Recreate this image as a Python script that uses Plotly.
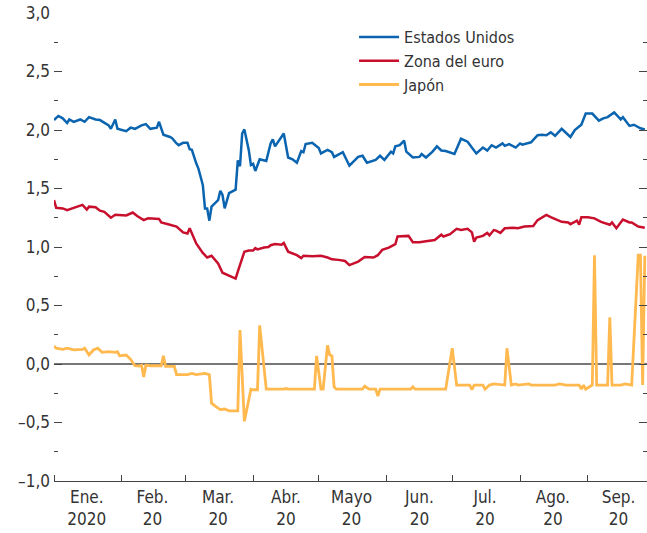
import plotly.graph_objects as go

# Estados Unidos
us_dates = ["2020-01-01", "2020-01-03", "2020-01-05", "2020-01-07", "2020-01-08", "2020-01-10",
            "2020-01-13", "2020-01-15", "2020-01-17", "2020-01-20", "2020-01-22", "2020-01-24",
            "2020-01-26", "2020-01-27", "2020-01-29", "2020-01-30", "2020-02-03", "2020-02-05",
            "2020-02-07", "2020-02-10", "2020-02-12", "2020-02-14", "2020-02-17", "2020-02-18",
            "2020-02-20", "2020-02-23", "2020-02-24", "2020-02-26", "2020-02-27", "2020-02-29",
            "2020-03-02", "2020-03-03", "2020-03-04", "2020-03-06", "2020-03-07", "2020-03-08",
            "2020-03-09", "2020-03-10", "2020-03-11", "2020-03-12", "2020-03-13", "2020-03-16",
            "2020-03-17", "2020-03-18", "2020-03-19", "2020-03-21", "2020-03-24", "2020-03-25",
            "2020-03-26", "2020-03-27", "2020-03-28", "2020-03-30", "2020-03-31", "2020-04-01",
            "2020-04-02", "2020-04-04", "2020-04-07", "2020-04-09", "2020-04-10", "2020-04-11",
            "2020-04-15", "2020-04-17", "2020-04-19", "2020-04-21", "2020-04-23", "2020-04-24",
            "2020-04-25", "2020-04-28", "2020-05-01", "2020-05-02", "2020-05-05", "2020-05-07",
            "2020-05-08", "2020-05-12", "2020-05-15", "2020-05-19", "2020-05-21", "2020-05-23",
            "2020-05-27", "2020-05-29", "2020-05-31", "2020-06-03", "2020-06-04", "2020-06-05",
            "2020-06-07", "2020-06-09", "2020-06-10", "2020-06-13", "2020-06-16", "2020-06-17",
            "2020-06-19", "2020-06-22", "2020-06-24", "2020-06-26", "2020-06-28", "2020-07-02",
            "2020-07-05", "2020-07-08", "2020-07-10", "2020-07-12", "2020-07-15", "2020-07-17",
            "2020-07-19", "2020-07-21", "2020-07-24", "2020-07-25", "2020-07-27", "2020-07-30",
            "2020-08-01", "2020-08-02", "2020-08-06", "2020-08-09", "2020-08-11", "2020-08-13",
            "2020-08-15", "2020-08-17", "2020-08-20", "2020-08-24", "2020-08-26", "2020-08-29",
            "2020-08-31", "2020-09-03", "2020-09-06", "2020-09-08", "2020-09-10", "2020-09-13",
            "2020-09-16", "2020-09-17", "2020-09-20", "2020-09-22", "2020-09-25", "2020-09-27"]
us_vals = [2.085, 2.12, 2.10, 2.06, 2.09, 2.07,
           2.09, 2.07, 2.11, 2.09, 2.085, 2.06,
           2.04, 2.01, 2.09, 2.01, 1.99, 2.02,
           2.01, 2.04, 2.05, 2.01, 2.02, 2.07,
           1.96, 1.94, 1.93, 1.885, 1.87, 1.89,
           1.89, 1.835, 1.83, 1.715, 1.67, 1.60,
           1.53, 1.33, 1.33, 1.225, 1.345, 1.40,
           1.48, 1.445, 1.33, 1.46, 1.49, 1.74,
           1.69, 1.97, 2.005, 1.83, 1.70, 1.71,
           1.65, 1.75, 1.735, 1.885, 1.92, 1.86,
           1.97, 1.765, 1.75, 1.72, 1.82, 1.81,
           1.88, 1.89, 1.845, 1.80, 1.83, 1.81,
           1.77, 1.81, 1.695, 1.77, 1.78, 1.72,
           1.745, 1.78, 1.745, 1.815, 1.80, 1.86,
           1.87, 1.91, 1.815, 1.765, 1.77, 1.795,
           1.765, 1.815, 1.86, 1.825, 1.82, 1.795,
           1.925, 1.90, 1.845, 1.80, 1.85, 1.825,
           1.87, 1.85, 1.885, 1.865, 1.88, 1.85,
           1.885, 1.875, 1.895, 1.955, 1.96, 1.955,
           1.98, 1.95, 2.01, 1.94, 2.00, 2.045,
           2.14, 2.14, 2.08, 2.10, 2.11, 2.15,
           2.09, 2.11, 2.035, 2.045, 2.015, 2.005]

# Zona del euro
eu_dates = ["2020-01-01", "2020-01-02", "2020-01-05", "2020-01-07", "2020-01-10", "2020-01-14",
            "2020-01-16", "2020-01-17", "2020-01-20", "2020-01-22", "2020-01-24", "2020-01-27",
            "2020-01-29", "2020-02-03", "2020-02-06", "2020-02-08", "2020-02-11", "2020-02-13",
            "2020-02-18", "2020-02-19", "2020-02-23", "2020-02-26", "2020-02-29", "2020-03-02",
            "2020-03-03", "2020-03-06", "2020-03-09", "2020-03-11", "2020-03-13", "2020-03-16",
            "2020-03-18", "2020-03-21", "2020-03-24", "2020-03-25", "2020-03-28", "2020-03-30",
            "2020-04-01", "2020-04-02", "2020-04-03", "2020-04-06", "2020-04-08", "2020-04-09",
            "2020-04-11", "2020-04-14", "2020-04-15", "2020-04-17", "2020-04-21", "2020-04-23",
            "2020-04-24", "2020-04-28", "2020-05-02", "2020-05-05", "2020-05-07", "2020-05-10",
            "2020-05-13", "2020-05-15", "2020-05-19", "2020-05-22", "2020-05-26", "2020-05-28",
            "2020-05-30", "2020-06-02", "2020-06-05", "2020-06-06", "2020-06-09", "2020-06-11",
            "2020-06-13", "2020-06-16", "2020-06-19", "2020-06-23", "2020-06-26", "2020-06-27",
            "2020-06-30", "2020-07-03", "2020-07-05", "2020-07-08", "2020-07-10", "2020-07-11",
            "2020-07-12", "2020-07-15", "2020-07-17", "2020-07-18", "2020-07-20", "2020-07-21",
            "2020-07-23", "2020-07-25", "2020-07-29", "2020-07-31", "2020-08-03", "2020-08-07",
            "2020-08-09", "2020-08-11", "2020-08-13", "2020-08-15", "2020-08-20", "2020-08-23",
            "2020-08-24", "2020-08-27", "2020-08-28", "2020-08-29", "2020-09-01", "2020-09-04",
            "2020-09-07", "2020-09-11", "2020-09-12", "2020-09-14", "2020-09-17", "2020-09-20",
            "2020-09-21", "2020-09-24", "2020-09-27"]
eu_vals = [1.40, 1.335, 1.33, 1.315, 1.335, 1.36,
           1.32, 1.345, 1.34, 1.31, 1.30, 1.25,
           1.275, 1.27, 1.295, 1.265, 1.23, 1.245,
           1.24, 1.21, 1.19, 1.175, 1.125, 1.115,
           1.16, 1.03, 0.95, 0.91, 0.925, 0.86,
           0.78, 0.755, 0.73, 0.79, 0.96, 0.97,
           0.97, 0.99, 0.98, 0.995, 1.00, 1.015,
           1.025, 1.02, 1.035, 0.96, 0.93, 0.905,
           0.925, 0.92, 0.925, 0.91, 0.895, 0.89,
           0.88, 0.845, 0.875, 0.915, 0.91, 0.93,
           0.975, 0.995, 1.025, 1.09, 1.095, 1.095,
           1.04, 1.04, 1.05, 1.06, 1.105, 1.09,
           1.11, 1.155, 1.145, 1.155, 1.125, 1.045,
           1.08, 1.095, 1.12, 1.10, 1.145, 1.14,
           1.12, 1.16, 1.165, 1.16, 1.175, 1.18,
           1.23, 1.255, 1.275, 1.255, 1.215, 1.21,
           1.195, 1.225, 1.19, 1.255, 1.255, 1.245,
           1.215, 1.19, 1.21, 1.16, 1.235, 1.21,
           1.21, 1.175, 1.165]

# Japón
jp_dates = ["2020-01-01", "2020-01-02", "2020-01-05", "2020-01-07", "2020-01-10", "2020-01-14",
            "2020-01-15", "2020-01-16", "2020-01-17", "2020-01-19", "2020-01-21", "2020-01-23",
            "2020-01-26", "2020-01-29", "2020-01-30", "2020-01-31", "2020-02-03", "2020-02-05",
            "2020-02-07", "2020-02-09", "2020-02-10", "2020-02-11", "2020-02-12", "2020-02-14",
            "2020-02-19", "2020-02-20", "2020-02-21", "2020-02-25", "2020-02-26", "2020-03-02",
            "2020-03-04", "2020-03-06", "2020-03-10", "2020-03-12", "2020-03-13", "2020-03-15",
            "2020-03-17", "2020-03-19", "2020-03-21", "2020-03-25", "2020-03-26", "2020-03-28",
            "2020-03-31", "2020-04-01", "2020-04-03", "2020-04-04", "2020-04-07", "2020-04-15",
            "2020-04-16", "2020-04-17", "2020-04-29", "2020-04-30", "2020-05-02", "2020-05-03",
            "2020-05-05", "2020-05-06", "2020-05-07", "2020-05-08", "2020-05-09", "2020-05-21",
            "2020-05-22", "2020-05-24", "2020-05-27", "2020-05-28", "2020-05-29", "2020-06-12",
            "2020-06-13", "2020-06-14", "2020-06-28", "2020-07-01", "2020-07-03", "2020-07-09",
            "2020-07-10", "2020-07-11", "2020-07-15", "2020-07-16", "2020-07-18", "2020-07-20",
            "2020-07-25", "2020-07-26", "2020-07-28", "2020-07-30", "2020-07-31", "2020-08-05",
            "2020-08-06", "2020-08-17", "2020-08-19", "2020-08-22", "2020-08-28", "2020-08-29",
            "2020-08-30", "2020-08-31", "2020-09-03", "2020-09-04", "2020-09-05", "2020-09-10",
            "2020-09-11", "2020-09-12", "2020-09-16", "2020-09-18", "2020-09-21", "2020-09-24",
            "2020-09-25", "2020-09-26", "2020-09-27"]
jp_vals = [0.155, 0.135, 0.125, 0.135, 0.12, 0.125,
           0.135, 0.105, 0.077, 0.12, 0.135, 0.10,
           0.105, 0.10, 0.105, 0.07, 0.077, 0.04,
           -0.015, -0.017, -0.01, -0.11, -0.01, -0.015,
           -0.015, 0.07, -0.02, -0.02, -0.09, -0.09,
           -0.08, -0.09, -0.08, -0.09, -0.335, -0.365,
           -0.39, -0.385, -0.40, -0.40, 0.29, -0.49,
           -0.215, -0.22, -0.22, 0.33, -0.215, -0.215,
           -0.21, -0.215, -0.215, 0.07, -0.215, -0.215,
           0.16, 0.077, 0.07, -0.195, -0.215, -0.215,
           -0.19, -0.215, -0.215, -0.275, -0.215, -0.215,
           -0.195, -0.215, -0.215, 0.135, -0.18, -0.18,
           -0.22, -0.18, -0.18, -0.215, -0.18, -0.17,
           -0.18, 0.135, -0.18, -0.17, -0.18, -0.17,
           -0.18, -0.18, -0.17, -0.18, -0.18, -0.215,
           -0.18, -0.215, -0.18, 0.93, -0.18, -0.18,
           0.40, -0.18, -0.18, -0.17, -0.18, 0.93,
           0.93, -0.18, 0.925]

# Eje horizontal: comienzo de cada mes y etiquetas centradas
month_starts = ["2020-01-01", "2020-02-01", "2020-03-01", "2020-04-01", "2020-05-01",
                "2020-06-01", "2020-07-01", "2020-08-01", "2020-09-01"]
month_mids = ["2020-01-16", "2020-02-15", "2020-03-16", "2020-04-16", "2020-05-16",
              "2020-06-16", "2020-07-16", "2020-08-16", "2020-09-15"]
month_labels = ["Ene.<br>2020", "Feb.<br>20", "Mar.<br>20", "Abr.<br>20", "Mayo<br>20",
                "Jun.<br>20", "Jul.<br>20", "Ago.<br>20", "Sep.<br>20"]

y_ticks = [-1.0, -0.5, 0.0, 0.5, 1.0, 1.5, 2.0, 2.5, 3.0]
y_labels = ["–1,0", "–0,5", "0,0", "0,5", "1,0", "1,5", "2,0", "2,5", "3,0"]
y_minor = [-0.75, -0.25, 0.25, 0.75, 1.25, 1.75, 2.25, 2.75]

font_family = "Liberation Sans Narrow, DejaVu Sans Condensed, Arial Narrow, sans-serif"

fig = go.Figure()
fig.add_trace(go.Scatter(x=us_dates, y=us_vals, mode="lines", name="Estados Unidos",
                         line=dict(color="#0a64b0", width=2.5)))
fig.add_trace(go.Scatter(x=eu_dates, y=eu_vals, mode="lines", name="Zona del euro",
                         line=dict(color="#c8102e", width=2.5)))
fig.add_trace(go.Scatter(x=jp_dates, y=jp_vals, mode="lines", name="Japón",
                         line=dict(color="#ffb94f", width=2.8)))

fig.update_layout(
    width=647, height=533,
    margin=dict(l=54, r=0, t=13, b=52, autoexpand=False),
    paper_bgcolor="white", plot_bgcolor="white",
    font=dict(family=font_family, size=17, color="#333333"),
    showlegend=True,
    legend=dict(x=0.506, y=0.985, xanchor="left", yanchor="top",
                bgcolor="rgba(0,0,0,0)", font=dict(size=16), itemwidth=40),
    xaxis=dict(
        type="date", range=["2020-01-01", "2020-09-28"], automargin=False,
        showgrid=False, zeroline=False,
        showline=True, linecolor="#444444", linewidth=1.3,
        tickmode="array", tickvals=month_mids, ticktext=month_labels, ticks="",
        minor=dict(tickmode="array", tickvals=month_starts, ticks="inside",
                   ticklen=6, tickwidth=1.3, tickcolor="#444444"),
    ),
    yaxis=dict(
        range=[-1, 3], showgrid=False, automargin=False,
        zeroline=True, zerolinecolor="#777777", zerolinewidth=1.5,
        showline=False, mirror="ticks",
        tickmode="array", tickvals=y_ticks, ticktext=y_labels, ticklabelstandoff=3,
        ticks="inside", ticklen=8, tickwidth=1.3, tickcolor="#444444",
        minor=dict(tickmode="array", tickvals=y_minor, ticks="inside",
                   ticklen=4, tickwidth=1.3, tickcolor="#444444"),
    ),
)

# la página no debe tener margen para que el gráfico ocupe toda la ventana
fig.write_html("out.html", config={"displayModeBar": False},
               post_script="document.body.style.margin='0';")
